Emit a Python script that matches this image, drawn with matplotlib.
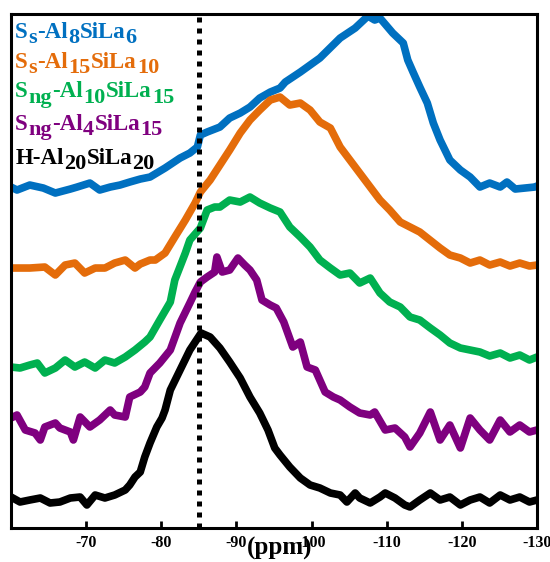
import numpy as np
import matplotlib
matplotlib.use("Agg")
import matplotlib.pyplot as plt

plt.rcParams['font.family'] = ['Liberation Serif', 'DejaVu Serif']
plt.rcParams['font.weight'] = 'bold'

# chemical shift (ppm) / stacked intensity (a.u.)
ss_al8_ppm = [-60, -60.8, -62.5, -64.3, -65.9, -67.9, -68.8, -70.5, -71.8, -73.2,
              -74.5, -75.8, -77.2, -78.5, -80.5, -82.5, -83.8, -84.8, -85.2, -86.1,
              -87.8, -89.1, -90.5, -91.8, -93.1, -94.5, -95.8, -96.5, -98.5, -101.1,
              -103.8, -105.8, -107.5, -108.4, -109.1, -110.8, -112.2, -112.8, -113.5, -114.4,
              -115.4, -116.2, -117.1, -118.4, -119.8, -121.1, -122.4, -123.7, -125.1, -126.0,
              -127.1, -128.4, -129.7, -130]
ss_al8_int = [341, 338, 343, 340, 335, 339, 341, 345, 338, 341,
              343, 346, 349, 351, 360, 370, 375, 381, 393, 396,
              401, 410, 415, 421, 430, 436, 440, 446, 456, 470,
              490, 500, 512, 508, 510, 495, 485, 468, 456, 441,
              425, 405, 388, 368, 358, 351, 341, 345, 341, 346,
              339, 340, 341, 342]

ss_al15_ppm = [-60, -62.5, -64.5, -65.9, -67.2, -68.5, -69.8, -71.2, -72.5, -73.8,
               -75.2, -76.5, -77.2, -78.5, -79.2, -80.5, -81.8, -83.2, -84.5, -85.2,
               -86.5, -87.8, -89.1, -90.5, -91.8, -93.1, -94.5, -95.8, -97.1, -98.5,
               -99.8, -101.1, -102.5, -103.8, -105.1, -106.4, -107.8, -109.1, -110.4, -111.8,
               -113.1, -114.4, -117.1, -118.4, -119.8, -121.1, -122.4, -123.7, -125.1, -126.4,
               -127.7, -129.0, -130]
ss_al15_int = [260, 260, 261, 253, 263, 265, 255, 260, 260, 265,
               268, 260, 264, 268, 268, 275, 291, 308, 325, 336,
               348, 363, 378, 395, 408, 418, 428, 431, 423, 425,
               418, 406, 400, 381, 368, 355, 341, 328, 318, 306,
               301, 296, 280, 273, 270, 265, 268, 263, 266, 262,
               265, 262, 263]

sng_al10_ppm = [-60, -61.2, -62.5, -63.5, -64.5, -65.9, -67.2, -68.5, -69.8, -71.2,
                -72.5, -73.8, -75.2, -76.5, -77.8, -78.5, -79.8, -81.2, -81.8, -83.2,
                -83.8, -85.2, -86.1, -87.1, -87.8, -89.1, -90.5, -91.8, -93.1, -94.5,
                -95.8, -97.1, -98.5, -99.8, -101.1, -102.5, -103.8, -105.1, -106.4, -107.8,
                -109.1, -110.4, -111.8, -113.1, -114.4, -115.8, -117.1, -118.4, -119.8, -121.1,
                -122.4, -123.7, -125.1, -126.4, -127.7, -129.0, -130]
sng_al10_int = [161, 160, 163, 165, 155, 160, 168, 161, 166, 160,
                168, 165, 171, 178, 186, 191, 208, 226, 248, 275,
                288, 300, 318, 321, 321, 328, 326, 331, 325, 320,
                316, 301, 291, 281, 268, 260, 253, 255, 245, 250,
                235, 226, 221, 211, 208, 200, 193, 185, 180, 178,
                176, 172, 175, 170, 173, 168, 171]

sng_al4_ppm = [-60, -60.8, -61.9, -63.2, -63.9, -64.5, -65.9, -66.5, -67.9, -68.3,
               -69.2, -70.5, -71.8, -73.2, -73.8, -75.2, -75.8, -77.2, -77.8, -78.5,
               -79.8, -81.2, -82.5, -83.8, -84.5, -85.2, -86.1, -87.1, -87.4, -88.1,
               -89.1, -90.2, -91.1, -91.8, -92.7, -93.4, -94.5, -95.3, -96.3, -97.5,
               -98.5, -99.4, -100.5, -101.8, -102.9, -103.8, -105.1, -106.4, -107.8, -108.4,
               -109.8, -111.1, -112.4, -113.1, -114.4, -115.8, -117.1, -118.4, -119.8, -121.1,
               -122.4, -123.7, -125.1, -126.4, -127.7, -129.0, -130]
sng_al4_int = [110, 113, 98, 95, 88, 101, 105, 100, 96, 88,
               111, 101, 108, 118, 113, 111, 131, 136, 141, 155,
               165, 178, 205, 225, 236, 246, 251, 256, 271, 256,
               258, 270, 263, 258, 248, 228, 223, 220, 206, 181,
               186, 161, 158, 136, 131, 128, 121, 115, 113, 116,
               98, 100, 91, 81, 95, 116, 88, 103, 80, 110,
               98, 88, 108, 96, 103, 96, 98]

h_al20_ppm = [-60, -61.2, -62.5, -63.9, -65.2, -66.5, -67.9, -69.2, -70.1, -71.2,
              -72.5, -73.8, -75.2, -75.8, -76.5, -77.2, -77.8, -78.5, -79.4, -80.1,
              -80.5, -81.2, -82.5, -83.8, -85.3, -86.5, -87.8, -89.1, -90.5, -91.8,
              -93.1, -94.2, -95.1, -95.8, -97.1, -98.5, -99.8, -101.1, -102.5, -103.8,
              -104.7, -105.8, -106.4, -107.8, -109.1, -109.8, -111.1, -112.4, -113.1, -114.4,
              -115.8, -117.1, -118.4, -119.8, -121.1, -122.4, -123.7, -125.1, -126.4, -127.7,
              -129.0, -130]
h_al20_int = [31, 26, 28, 30, 25, 26, 30, 31, 23, 33,
              30, 33, 38, 43, 51, 56, 71, 85, 101, 110,
              118, 138, 158, 178, 195, 191, 180, 166, 150, 131,
              115, 98, 80, 73, 61, 50, 43, 40, 35, 33,
              26, 35, 30, 25, 31, 35, 30, 23, 21, 28,
              35, 28, 31, 23, 28, 31, 25, 33, 28, 31,
              26, 28]

# sample names as (text, is_subscript) pieces
labels = [[('S', 0), ('s', 1), ('-Al', 0), ('8', 1), ('SiLa', 0), ('6', 1)],
          [('S', 0), ('s', 1), ('-Al', 0), ('15', 1), ('SiLa', 0), ('10', 1)],
          [('S', 0), ('ng', 1), ('-Al', 0), ('10', 1), ('SiLa', 0), ('15', 1)],
          [('S', 0), ('ng', 1), ('-Al', 0), ('4', 1), ('SiLa', 0), ('15', 1)],
          [('H-Al', 0), ('20', 1), ('SiLa', 0), ('20', 1)]]
colors = ['#0070C0', '#E46C0A', '#00B050', '#7F007F', '#000000']
xticks = [-70, -80, -90, -100, -110, -120, -130]
marker_ppm = -85

series = [(ss_al8_ppm, ss_al8_int), (ss_al15_ppm, ss_al15_int),
          (sng_al10_ppm, sng_al10_int), (sng_al4_ppm, sng_al4_int),
          (h_al20_ppm, h_al20_int)]

fig = plt.figure(figsize=(5.5, 5.62), dpi=100)
ax = fig.add_axes([0.02, 0.0605, 0.9564, 0.9145])

for (x, y), c in zip(series, colors):
    ax.plot(x, y, color=c, lw=5.5, solid_joinstyle='round', solid_capstyle='round')

ax.axvline(marker_ppm, color='black', lw=3.6, linestyle=(0, (1, 1.2)))

ax.set_xlim(-60, -130)
ax.set_ylim(0, 514)
ax.set_xticks(xticks)
ax.set_xticklabels([str(t) for t in xticks], fontsize=11.5, fontweight='bold')
ax.set_yticks([])
ax.tick_params(axis='x', direction='in', length=5, width=2, pad=5)
for s in ax.spines.values():
    s.set_linewidth(2.2)

ax.set_xlabel('(ppm)', fontsize=18, fontweight='bold')
ax.xaxis.set_label_coords(0.511, -0.018)

# labels built piece by piece so subscripts can be nearly full size
renderer = fig.canvas.get_renderer()
main_size, sub_size = 16.5, 16
sub_drop = 3.8      # points
sub_gap = 0.6       # points after each subscript
baselines = [0.953, 0.895, 0.838, 0.774, 0.708]
for parts, c, yb in zip(labels, colors, baselines):
    xoff = 0.0
    for txt, sub in parts:
        t = ax.annotate(txt, xy=(0.008, yb), xycoords='axes fraction',
                        xytext=(xoff, -sub_drop if sub else 0), textcoords='offset points',
                        color=c, fontsize=sub_size if sub else main_size,
                        fontweight='bold', va='baseline', ha='left')
        w = t.get_window_extent(renderer).width * 72.0 / fig.dpi
        xoff += w + (sub_gap if sub else 0.0)

fig.savefig('out.png', dpi=100)
